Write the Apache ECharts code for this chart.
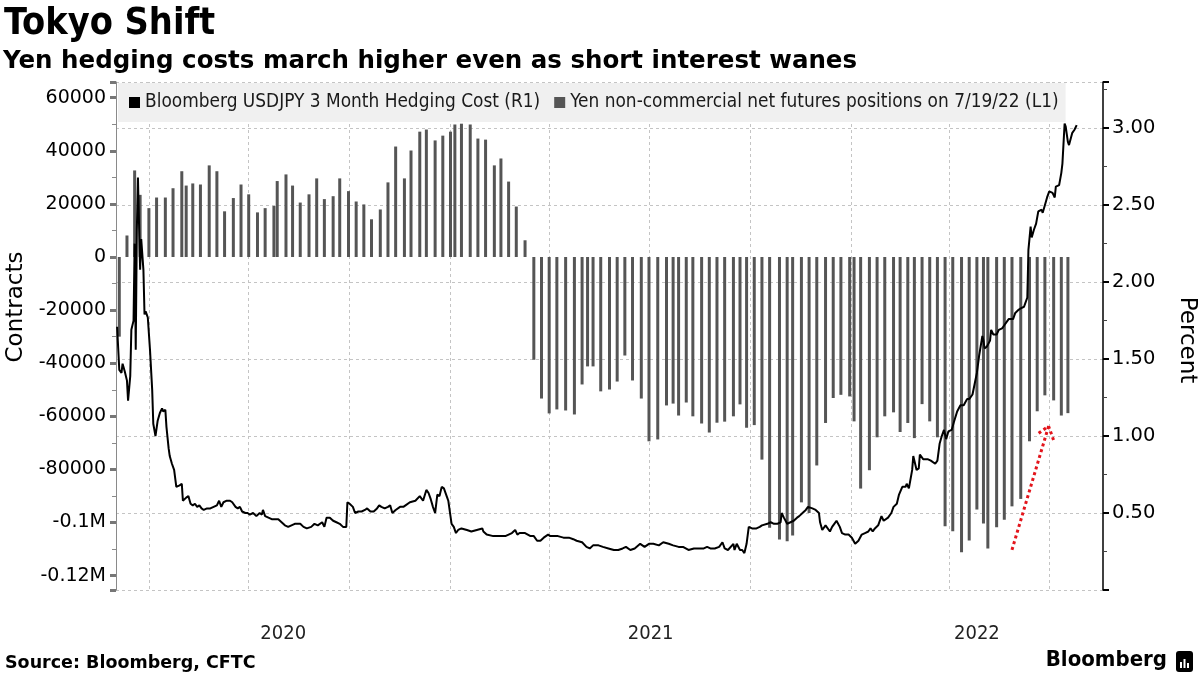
<!DOCTYPE html>
<html>
<head>
<meta charset="utf-8">
<script src="https://cdn.jsdelivr.net/npm/echarts@6/dist/echarts.min.js"></script>
<style>
html,body{margin:0;padding:0;background:#fff;overflow:hidden;}
#c{width:1200px;height:675px;}
</style>
</head>
<body>
<div id="c"></div>
<script>
// ---------- texts ----------
const titleText = 'Tokyo Shift';
const subtitleText = 'Yen hedging costs march higher even as short interest wanes';
const sourceText = 'Source: Bloomberg, CFTC';
const brandText = 'Bloomberg';
const hedgeName = 'Bloomberg USDJPY 3 Month Hedging Cost (R1)';
const posName = 'Yen non-commercial net futures positions on 7/19/22 (L1)';
const leftAxisName = 'Contracts';
const rightAxisName = 'Percent';
const yearLabels = ['2020', '2021', '2022'];

// ---------- axis ranges (dates as days since 2020-01-01) ----------
const axisStartDay = 61;
const axisEndDay = 961;
const quarterStarts = ['2020-04-01','2020-07-01','2020-10-01','2021-01-01','2021-04-01','2021-07-01','2021-10-01','2022-01-01','2022-04-01','2022-07-01'];
const leftMin = -125400, leftMax = 65900;
const rightMin = 0, rightMax = 3.3, rightStep = 0.5;

// ---------- CFTC yen net non-commercial positions (contracts) ----------
const positionDays = [64,71,78,83,91,98,106,113,121,125,131,138,146,153,160,168,175,182,190,197,
205,208,216,222,229,237,244,251,259,265,273,280,287,294,302,309,316,324,330,338,
344,352,359,366,370,376,384,391,398,406,412,419,426,434,442,449,456,463,471,479,
486,491,496,503,511,518,525,532,540,547,555,563,569,574,581,587,595,602,609,616,
624,630,636,643,650,657,666,673,678,686,693,700,708,715,722,730,734,740,748,755,
762,770,776,783,789,796,803,810,817,824,832,839,846,852,856,864,871,878,886,894,
901,908,916,923,929];
const positions = [-30000,8100,32600,23400,18400,22400,22400,25900,32300,26900,27700,27300,34500,32300,17200,22200,27300,23600,16800,18400,
19200,28600,31100,26900,20500,23600,29600,21800,22900,29600,24800,20900,19800,14200,17900,28100,41600,29600,40100,47200,
48000,43900,45700,47200,49900,50200,49900,44600,44200,34500,37100,28400,19000,6300,-38700,-53300,-58900,-57400,-57800,-59300,
-48000,-41200,-41200,-50600,-49900,-46900,-37100,-46500,-53300,-69400,-68700,-55900,-55200,-59700,-54800,-60000,-62700,-66100,-62400,-62000,
-60000,-55500,-64300,-63300,-76300,-102000,-106400,-107000,-104900,-92400,-96400,-78500,-62500,-53100,-51900,-52500,-61900,-87200,-80300,-67900,
-60000,-58500,-65900,-62500,-68200,-55400,-61900,-67900,-101400,-103300,-111200,-106800,-95100,-100400,-109800,-101800,-98900,-93900,-91100,-69400,
-58100,-52100,-54000,-59700,-58800];

// ---------- USDJPY 3M hedging cost (%) ----------
const hedgeDays = [62,64,66,67,69,71,72,74,75,77,78,79,80,81,82,83,84,85,86,87,
88,89,90,92,94,95,97,99,101,103,104,106,107,109,110,112,114,116,119,121,
122,125,127,129,131,133,135,137,139,141,144,147,150,153,155,157,159,162,165,167,
170,172,174,176,179,181,183,186,189,192,194,195,197,200,203,206,209,212,215,218,
221,224,229,232,235,239,242,245,249,251,253,256,259,262,265,268,271,272,274,277,
279,282,285,288,290,293,296,299,301,303,306,309,311,313,316,320,323,325,329,334,
338,341,344,346,348,350,352,354,356,358,360,363,364,367,369,371,373,376,381,385,
390,395,396,399,405,411,416,419,422,425,427,429,434,439,442,445,448,451,455,457,
460,464,469,474,478,481,486,490,493,496,501,505,510,515,519,523,526,530,534,539,
543,547,551,556,560,565,569,574,578,583,588,592,597,600,603,607,611,614,616,619,
624,625,627,630,632,634,636,638,641,645,648,650,655,658,661,664,667,668,670,673,
676,679,682,684,687,690,692,696,699,702,703,705,708,709,712,714,716,718,721,723,
726,729,732,735,738,741,744,747,749,751,753,756,759,761,765,768,770,773,775,778,
781,782,784,787,788,790,791,793,794,797,801,804,805,808,810,812,814,816,818,820,
823,825,828,831,834,837,839,842,844,846,848,851,852,853,855,858,859,861,864,866,
869,871,873,875,876,879,881,884,886,889,890,892,893,895,896,898,900,902,905,906,
908,910,912,915,917,918,921,923,924,926,927,929,930,933,935,937];
const hedgeCost = [1.71,1.43,1.41,1.47,1.42,1.36,1.23,1.39,1.69,1.75,2.25,1.56,2.34,2.68,2.68,2.08,2.28,2.27,2.08,1.79,
1.81,1.79,1.77,1.56,1.30,1.08,1.00,1.10,1.15,1.18,1.16,1.17,1.06,0.92,0.87,0.82,0.78,0.67,0.68,0.69,
0.58,0.60,0.61,0.56,0.55,0.56,0.54,0.55,0.53,0.52,0.53,0.53,0.54,0.55,0.58,0.54,0.57,0.58,0.58,0.57,
0.54,0.53,0.54,0.51,0.50,0.50,0.49,0.50,0.48,0.50,0.49,0.52,0.48,0.47,0.46,0.46,0.46,0.44,0.42,0.41,
0.42,0.43,0.43,0.41,0.40,0.41,0.43,0.42,0.44,0.41,0.47,0.47,0.45,0.44,0.43,0.41,0.41,0.57,0.56,0.54,
0.50,0.51,0.51,0.52,0.53,0.51,0.51,0.53,0.55,0.54,0.53,0.54,0.55,0.50,0.52,0.54,0.54,0.55,0.57,0.58,
0.61,0.58,0.65,0.63,0.59,0.54,0.50,0.62,0.61,0.67,0.66,0.60,0.58,0.43,0.41,0.37,0.39,0.40,0.39,0.38,
0.39,0.40,0.38,0.36,0.35,0.35,0.35,0.36,0.37,0.39,0.36,0.37,0.37,0.35,0.35,0.32,0.32,0.34,0.36,0.35,
0.35,0.35,0.34,0.34,0.33,0.32,0.31,0.28,0.27,0.29,0.29,0.28,0.27,0.26,0.26,0.27,0.28,0.26,0.27,0.30,
0.28,0.30,0.30,0.29,0.31,0.30,0.29,0.28,0.28,0.26,0.27,0.27,0.27,0.28,0.27,0.27,0.28,0.31,0.27,0.26,
0.30,0.26,0.30,0.26,0.26,0.24,0.30,0.41,0.40,0.40,0.41,0.42,0.43,0.44,0.43,0.43,0.44,0.50,0.47,0.43,
0.44,0.45,0.47,0.48,0.50,0.52,0.54,0.53,0.52,0.50,0.44,0.39,0.42,0.41,0.38,0.41,0.43,0.45,0.41,0.37,
0.36,0.36,0.34,0.30,0.32,0.36,0.37,0.38,0.40,0.38,0.40,0.42,0.48,0.45,0.47,0.50,0.54,0.56,0.62,0.67,
0.67,0.69,0.66,0.78,0.87,0.81,0.78,0.79,0.88,0.85,0.85,0.84,0.85,0.82,0.84,0.95,1.00,1.04,0.98,1.03,
1.04,1.09,1.16,1.20,1.20,1.24,1.24,1.27,1.34,1.41,1.52,1.65,1.62,1.57,1.58,1.62,1.69,1.66,1.66,1.69,
1.70,1.72,1.74,1.76,1.75,1.76,1.80,1.82,1.83,1.84,1.86,1.90,2.21,2.36,2.29,2.34,2.38,2.46,2.47,2.45,
2.50,2.55,2.59,2.58,2.55,2.62,2.63,2.71,2.77,3.03,3.01,2.91,2.89,2.97,2.99,3.02];

// ---------- red dotted arrow annotation (day, contracts) ----------
const arrowTail = [878, -110300];
const arrowTip = [911.4, -63700];
const arrowWingA = [902.3, -66400];
const arrowWingB = [915.9, -68900];

// ---------- build ----------
const EPOCH = Date.UTC(2020, 0, 1);
const DAY_MS = 86400000;
const ts = d => EPOCH + d * DAY_MS;

const barData = positionDays.map((d, i) => [ts(d), positions[i]]);
const lineData = hedgeDays.map((d, i) => [ts(d), hedgeCost[i]]);

const yearBounds = [ts(axisStartDay)]
  .concat(yearLabels.slice(1).map(y => Date.UTC(+y, 0, 1)))
  .concat([ts(axisEndDay)]);
const yearCenters = yearLabels.map((y, i) => (yearBounds[i] + yearBounds[i + 1]) / 2);

const FONT = "'DejaVu Sans', sans-serif";
const FONT_C = "'DejaVu Sans Condensed', 'DejaVu Sans', sans-serif";

function leftFmt(v) {
  if (Math.round(v) % 20000 !== 0) return '';
  if (Math.abs(v) >= 100000) return (v / 1e6) + 'M';
  return String(v);
}
function rightFmt(v) {
  if (v === 0) return '';
  if (Math.abs(Math.round(v * 100) % 50) !== 0) return '';
  return v.toFixed(2);
}

const arrowCoord = p => ({ coord: [ts(p[0]), p[1]] });

const chart = echarts.init(document.getElementById('c'));
chart.setOption({
  animation: false,
  backgroundColor: '#ffffff',
  title: [
    { text: titleText, left: 4, top: 5, padding: 0,
      textStyle: { fontFamily: FONT_C, fontWeight: 'bold', fontSize: 37.5, color: '#000' } },
    { text: subtitleText, left: 3, top: 49, padding: 0,
      textStyle: { fontFamily: FONT, fontWeight: 'bold', fontSize: 24.5, color: '#000' } },
    { text: sourceText, left: 5, top: 654, padding: 0,
      textStyle: { fontFamily: FONT, fontWeight: 'bold', fontSize: 17.5, color: '#000' } },
    { text: brandText, right: 33, top: 649, padding: 0,
      textStyle: { fontFamily: FONT_C, fontWeight: 'bold', fontSize: 22, color: '#000' } }
  ],
  legend: {
    data: [hedgeName, posName],
    left: 118, top: 83,
    padding: [10, 7, 10, 11],
    backgroundColor: '#f0f0f0',
    icon: 'rect', itemWidth: 11, itemHeight: 11, itemGap: 14,
    textStyle: { fontFamily: FONT_C, fontSize: 18.9, color: '#1a1a1a' },
    selectedMode: false
  },
  grid: { left: 116, right: 97, top: 82, bottom: 85, containLabel: false, outerBoundsMode: 'none' },
  xAxis: {
    type: 'value',
    min: ts(axisStartDay), max: ts(axisEndDay),
    axisLine: { show: false },
    axisTick: { show: false, customValues: quarterStarts.map(s => Date.parse(s)) },
    splitLine: { show: true, lineStyle: { type: [3, 3], color: '#c4c4c4', width: 1 } },
    axisLabel: {
      customValues: yearCenters,
      formatter: v => String(new Date(v).getUTCFullYear()),
      fontFamily: FONT_C, fontSize: 20, color: '#222', margin: 34
    }
  },
  yAxis: [
    {
      type: 'value', position: 'left',
      min: leftMin, max: leftMax, splitNumber: 10,
      axisLine: { show: true, lineStyle: { color: '#8a8a8a', width: 1 } },
      axisTick: { show: true, length: 6, lineStyle: { color: '#777', width: 3 } },
      minorTick: { show: true, splitNumber: 2, length: 4, lineStyle: { color: '#8a8a8a', width: 1 } },
      splitLine: { show: false },
      axisLabel: { formatter: leftFmt, fontFamily: FONT, fontSize: 19, color: '#000', margin: 10 },
      name: leftAxisName, nameLocation: 'middle', nameGap: 86,
      nameTextStyle: { fontFamily: FONT, fontSize: 23, color: '#000', padding: [0, 0, 0, 58] }
    },
    {
      type: 'value', position: 'right',
      min: rightMin, max: rightMax, interval: rightStep,
      axisLine: { show: true, lineStyle: { color: '#000', width: 1.5 } },
      axisTick: { show: true, length: 6, lineStyle: { color: '#000', width: 2 } },
      minorTick: { show: true, splitNumber: 2, length: 4, lineStyle: { color: '#444', width: 1 } },
      splitLine: { show: true, lineStyle: { type: [3, 3], color: '#c4c4c4', width: 1 } },
      axisLabel: { formatter: rightFmt, showMaxLabel: false, fontFamily: FONT, fontSize: 19.5, color: '#000', margin: 9 },
      name: rightAxisName, nameLocation: 'middle', nameGap: 72, nameRotate: -90,
      nameTextStyle: { fontFamily: FONT, fontSize: 23, color: '#000', padding: [0, 0, 0, 8] }
    }
  ],
  series: [
    {
      name: posName, type: 'bar', xAxisIndex: 0, yAxisIndex: 0,
      barWidth: 3, data: barData,
      itemStyle: { color: '#555555' },
      z: 2,
      markLine: {
        silent: true, animation: false, symbol: ['none', 'none'],
        label: { show: false },
        lineStyle: { color: '#e3141b', type: 'dotted', width: 3 },
        data: [
          [arrowCoord(arrowTail), arrowCoord(arrowTip)],
          [arrowCoord(arrowWingA), arrowCoord(arrowTip)],
          [arrowCoord(arrowWingB), arrowCoord(arrowTip)]
        ]
      }
    },
    {
      name: hedgeName, type: 'line', xAxisIndex: 0, yAxisIndex: 1,
      data: lineData, showSymbol: false, symbol: 'none',
      lineStyle: { color: '#000', width: 2 },
      itemStyle: { color: '#000' },
      z: 3
    }
  ],
  graphic: [
    {
      type: 'group', left: 1176, top: 651,
      children: [
        { type: 'rect', shape: { x: 0, y: 0, width: 17, height: 21, r: 3 }, style: { fill: '#000' } },
        { type: 'rect', shape: { x: 4, y: 11, width: 2, height: 6 }, style: { fill: '#fff' } },
        { type: 'rect', shape: { x: 7.5, y: 8, width: 2, height: 9 }, style: { fill: '#fff' } },
        { type: 'rect', shape: { x: 11, y: 12, width: 2, height: 5 }, style: { fill: '#fff' } }
      ]
    }
  ]
});
</script>
</body>
</html>
